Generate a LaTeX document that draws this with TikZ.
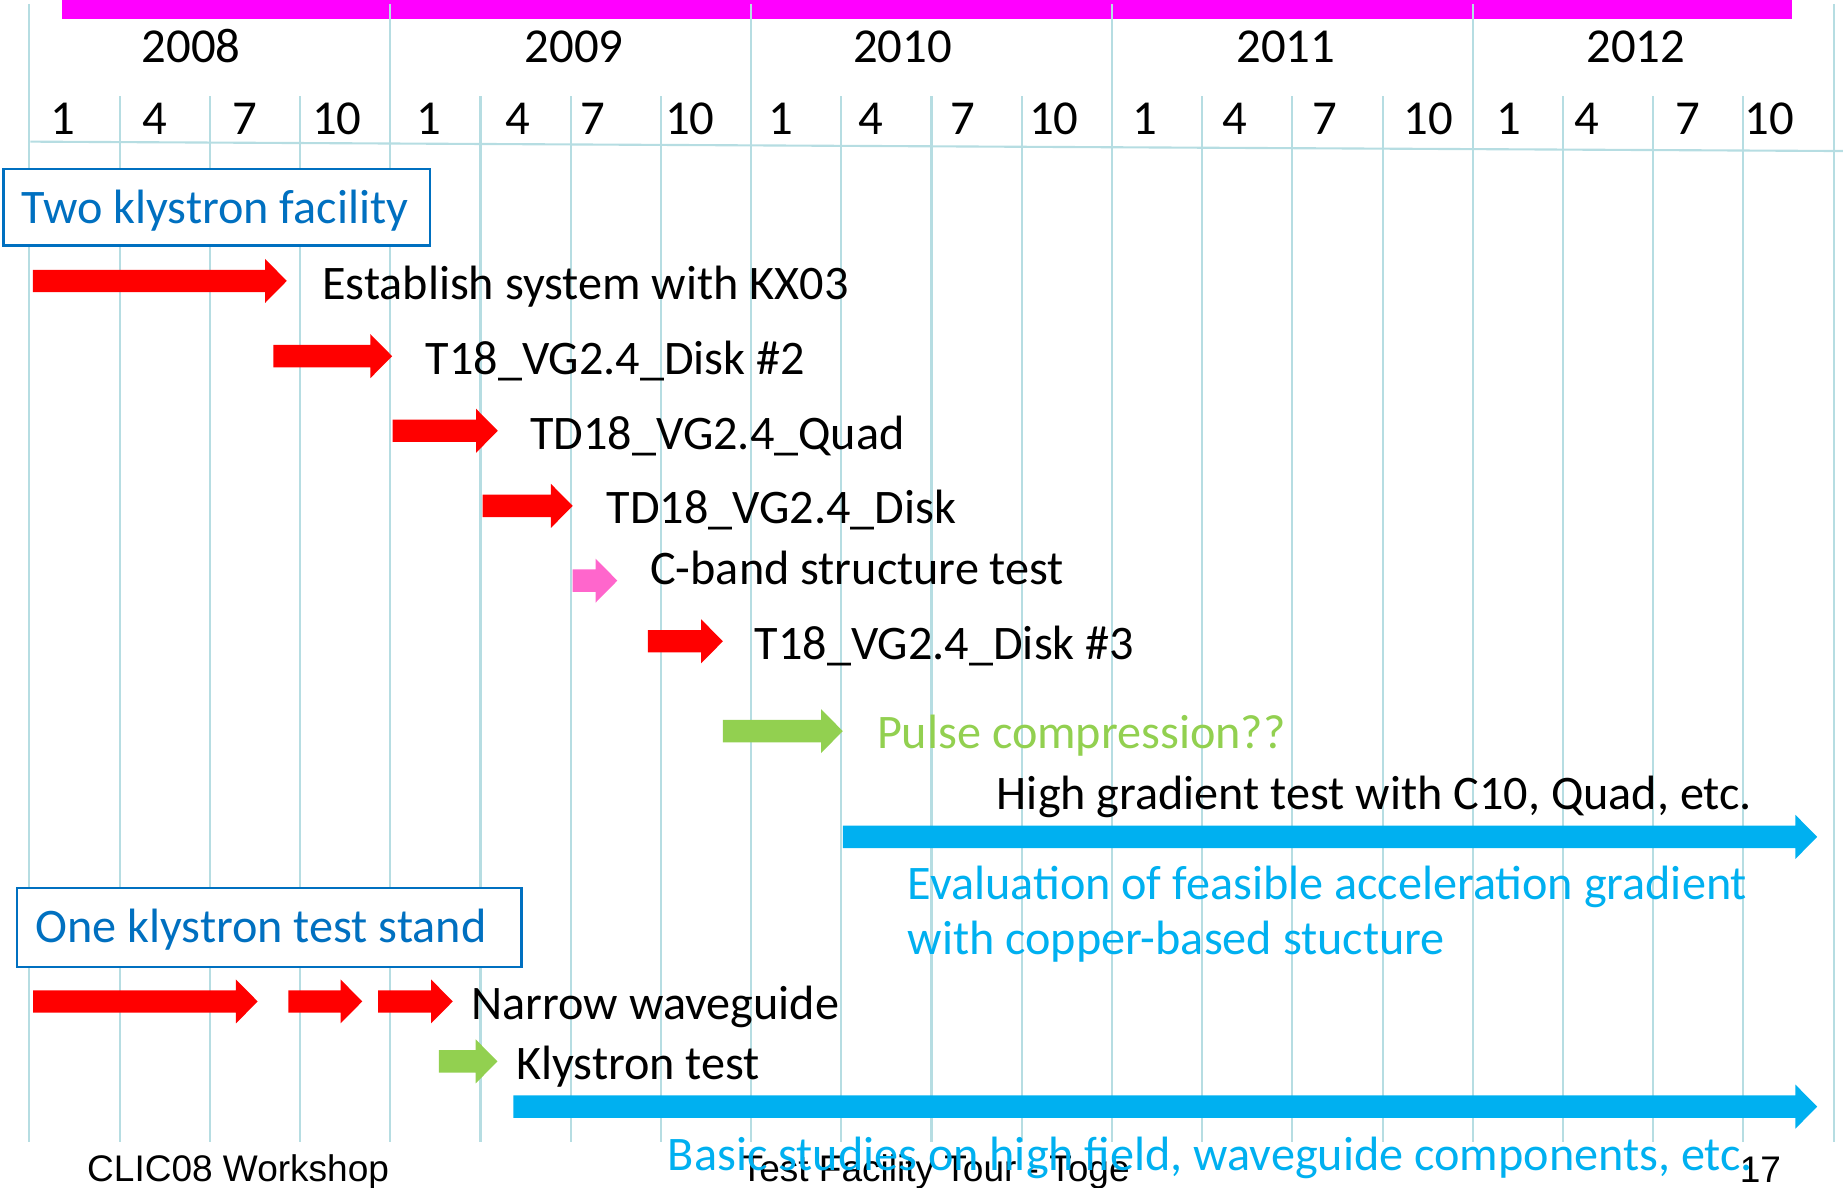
\documentclass[tikz,border=0pt]{standalone}
\usepackage{fontspec}
\setmainfont{Carlito}
\newfontfamily\arialf{Liberation Sans}
\definecolor{gridc}{RGB}{182,221,226}
\definecolor{magbar}{RGB}{255,0,255}
\definecolor{boxblue}{RGB}{0,112,192}
\definecolor{arred}{RGB}{255,0,0}
\definecolor{arpink}{RGB}{255,102,204}
\definecolor{argreen}{RGB}{146,208,80}
\definecolor{arblue}{RGB}{0,176,240}
\newcommand{\myblockarrow}[4]{%
  \fill[#1] (#2,{#4-9.5}) -- ({#3-18.5},{#4-9.5}) -- ({#3-18.5},{#4-18.75}) -- (#3,#4)
    -- ({#3-18.5},{#4+18.75}) -- ({#3-18.5},{#4+9.5}) -- (#2,{#4+9.5}) -- cycle;}
\tikzset{
  gridline/.style={draw=gridc, line width=1.8pt},
  numtxt/.style={anchor=base, inner sep=0pt, font=\fontsize{41.5}{48}\selectfont},
  txt/.style={anchor=base west, inner sep=0pt, font=\fontsize{41}{48}\selectfont},
  bluetxt/.style={txt, text=arblue},
  boxtxt/.style={anchor=base, inner sep=0pt, text=boxblue, font=\fontsize{41}{48}\selectfont},
  boxst/.style={draw=boxblue, fill=white, line width=2pt, inner sep=0pt},
  foot/.style={anchor=base west, inner sep=0pt, font=\arialf\fontsize{31.5}{36}\selectfont},
}
\begin{document}
\begin{tikzpicture}[x=1pt,y=-1pt]
\useasboundingbox (0,0) rectangle (1568,1010);
% magenta bar
\fill[magbar] (53,0) rectangle (1524.3,16.2);
% grid
\foreach \i in {0,...,5} {
  \draw[gridline] ({25+307*\i},3.4) -- ({25+307*\i},972);
}
\foreach \i in {0,...,4} {
  \foreach \q in {1,2,3} {
    \draw[gridline] ({25+307*\i+76.75*\q},82) -- ({25+307*\i+76.75*\q},972);
  }
}
\draw[gridline] (25.8,120.5) -- (1568,128.5);
% years
\node[numtxt] (y2008) at (162.7,53.5) {2008};
\node[numtxt] (y2009) at (488.4,53.5) {2009};
\node[numtxt] (y2010) at (768,53.5) {2010};
\node[numtxt] (y2011) at (1094,53.5) {2011};
\node[numtxt] (y2012) at (1391.8,53.5) {2012};
% months
\foreach \xx/\m [count=\k] in {53.2/1,131.4/4,208.3/7,286.7/10,364.6/1,440.6/4,504/7,586.8/10,664.7/1,740.6/4,819.3/7,896.7/10,973.6/1,1050.5/4,1127.5/7,1215/10,1283.5/1,1350.2/4,1436/7,1505.2/10} {
  \node[numtxt] (m\k) at (\xx,114.4) {\m};
}
% boxes
\node[boxst, minimum width=363pt, minimum height=65pt] (twobox) at (184.5,176.5) {};
\node[boxtxt] (twotxt) at (183,190.5) {Two klystron facility};
\node[boxst, minimum width=429pt, minimum height=67pt] (onebox) at (229.2,789.2) {};
\node[boxtxt] (onetxt) at (222,802) {One klystron test stand};
% arrows
\myblockarrow{arred}{28}{244}{239}
\myblockarrow{arred}{232.5}{333.6}{303}
\myblockarrow{arred}{334}{423.5}{366.5}
\myblockarrow{arred}{410.7}{487.2}{430.4}
\myblockarrow{arpink}{487.2}{525.2}{494}
\myblockarrow{arred}{551.3}{615}{545.6}
\myblockarrow{argreen}{615}{717}{622}
\myblockarrow{arblue}{717}{1546}{712}
\myblockarrow{arred}{28.2}{219.2}{852}
\myblockarrow{arred}{245.3}{308.2}{852}
\myblockarrow{arred}{321.8}{385.2}{852}
\myblockarrow{argreen}{373.3}{423.2}{903}
\myblockarrow{arblue}{436.8}{1546}{941.5}
% texts
\node[txt] (t1) at (274,254.4) {Establish system with KX03};
\node[txt] (t2) at (362,318.2) {T18\_VG2.4\_Disk \#2};
\node[txt] (t3) at (451,382) {TD18\_VG2.4\_Quad};
\node[txt] (t4) at (516,445.8) {TD18\_VG2.4\_Disk};
\node[txt] (t5) at (553,497) {C-band structure test};
\node[txt] (t6) at (642,560.7) {T18\_VG2.4\_Disk \#3};
\node[txt, text=argreen] (t7) at (746,637) {Pulse compression??};
\node[txt] (t8) at (848,688.3) {High gradient test with C10, Quad, etc.};
\node[bluetxt] (t9) at (772,764.9) {Evaluation of feasible acceleration gradient};
\node[bluetxt] (t10) at (772,811.7) {with copper-based stucture};
\node[txt] (t11) at (401,867) {Narrow waveguide};
\node[txt] (t12) at (439,918) {Klystron test};
% footer
\node[foot] (f1) at (74,1005) {CLIC08 Workshop};
\node[foot] (f2) at (630,1005) {Test Facility Tour - Toge};
\node[foot] (f3) at (1480,1006) {17};
\node[bluetxt] (t13) at (568,995.5) {Basic studies on high field, waveguide components, etc.};
\end{tikzpicture}
\end{document}
